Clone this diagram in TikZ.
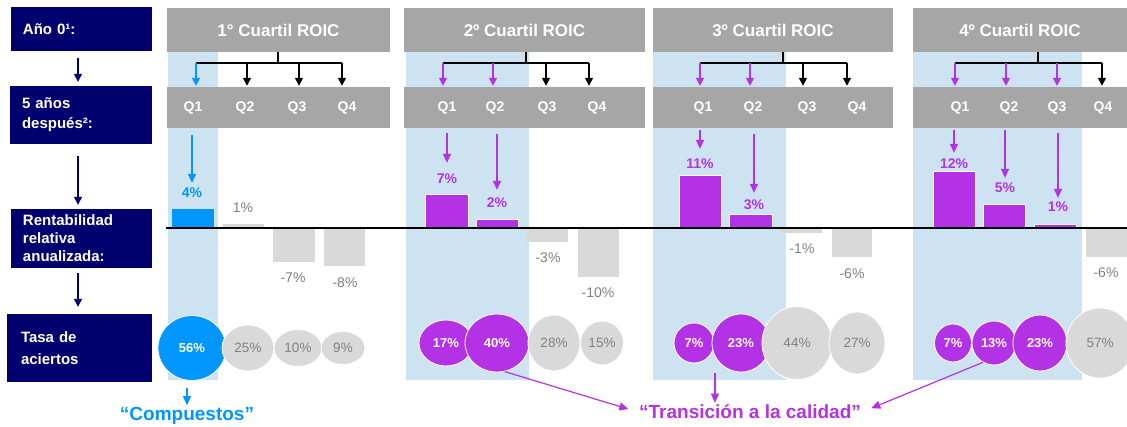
\documentclass[tikz,border=0pt]{standalone}
\usepackage{fontspec}
\setmainfont{Liberation Sans}
\usetikzlibrary{arrows.meta,shapes.geometric}
\definecolor{navy}{RGB}{0,0,110}
\definecolor{hdrgray}{RGB}{166,166,166}
\definecolor{shadeblue}{RGB}{206,227,241}
\definecolor{cblue}{RGB}{0,150,255}
\definecolor{cpurple}{RGB}{180,50,230}
\definecolor{barg}{RGB}{217,217,217}
\definecolor{txtg}{RGB}{128,128,128}
\begin{document}
\begin{tikzpicture}[x=1pt,y=-1pt,
  navybox/.style={fill=navy,text=white,inner ysep=0pt,inner xsep=12pt,align=left,font=\bfseries\fontsize{15}{19}\selectfont},
  navarr/.style={draw=navy,line width=1.4pt,-{Triangle[length=8pt,width=8pt]}},
  hdr/.style={fill=hdrgray,text=white,inner sep=0pt,minimum height=44pt,font=\bfseries\fontsize{17}{20}\selectfont},
  qrow/.style={fill=hdrgray,inner sep=0pt,minimum height=41pt},
  qlbl/.style={text=white,inner sep=1pt,font=\bfseries\fontsize{14}{16}\selectfont},
  tree/.style={draw=black,line width=1.4pt},
  tarr/.style={line width=1.4pt,-{Triangle[length=8pt,width=8pt]},shorten >=1pt},
  parr/.style={draw=cpurple,line width=1.4pt,-{Triangle[length=9pt,width=8pt]}},
  barr/.style={draw=cblue,line width=1.4pt,-{Triangle[length=9pt,width=8pt]}},
  ppct/.style={text=cpurple,inner sep=2pt,font=\bfseries\fontsize{14}{16}\selectfont},
  bpct/.style={text=cblue,inner sep=2pt,font=\bfseries\fontsize{14}{16}\selectfont},
  gpct/.style={text=txtg,inner sep=2pt,font=\fontsize{14}{16}\selectfont},
  bub/.style={ellipse,draw=white,line width=0.8pt,inner sep=0pt},
  cbub/.style={bub,text=white,font=\bfseries\fontsize{13}{15}\selectfont},
  gbub/.style={bub,fill=barg,text=txtg,font=\fontsize{13.5}{15}\selectfont},
  pbar/.style={fill=cpurple,draw=white,line width=0.8pt},
  gbar/.style={fill=barg},
  big/.style={inner sep=1pt,font=\bfseries\fontsize{19}{22}\selectfont}
]
\useasboundingbox (0,0) rectangle (1127,427);
\fill[white] (0,0) rectangle (1127,427);

% shaded columns
\fill[shadeblue] (168,52) rectangle (218,380);
\fill[shadeblue] (406,52) rectangle (529,380);
\fill[shadeblue] (653,52) rectangle (786,380);
\fill[shadeblue] (913,52) rectangle (1082,380);

% left column
\node[navybox,text width=117pt,minimum height=44pt] (L1) at (81.5,29) {Año 0¹:};
\node[navybox,text width=118pt,minimum height=58pt,font=\bfseries\fontsize{15}{20}\selectfont] (L2) at (81,115) {5 años\\después²:};
\node[navybox,text width=117pt,minimum height=59pt,font=\bfseries\fontsize{15}{18}\selectfont] (L3) at (81.5,238.5) {Rentabilidad\\relativa\\anualizada:};
\node[navybox,inner xsep=14pt,text width=117pt,minimum height=68pt,font=\bfseries\fontsize{15}{22}\selectfont] (L4) at (79.5,348) {Tasa de\\aciertos};
\coordinate (ax) at (78,0);
\draw[navarr,shorten <=7pt,shorten >=4pt] (L1.south -| ax) -- (L2.north -| ax);
\draw[navarr,shorten <=12pt,shorten >=4pt] (L2.south -| ax) -- (L3.north -| ax);
\draw[navarr,shorten <=5pt,shorten >=7pt] (L3.south -| ax) -- (L4.north -| ax);

% headers
\node[hdr,minimum width=223pt] (H1) at (278.5,30) {1° Cuartil ROIC};
\node[hdr,minimum width=241pt] (H2) at (524.5,30) {2º Cuartil ROIC};
\node[hdr,minimum width=240pt] (H3) at (773,30) {3º Cuartil ROIC};
\node[hdr,minimum width=214pt] (H4) at (1020,30) {4º Cuartil ROIC};

% quartile rows
\node[qrow,minimum width=223pt] (R1) at (278.5,107.5) {};
\node[qrow,minimum width=241pt] (R2) at (524.5,107.5) {};
\node[qrow,minimum width=240pt] (R3) at (773,107.5) {};
\node[qrow,minimum width=214pt] (R4) at (1020,107.5) {};
\node[qlbl] (q11) at (193,108) {Q1};
\node[qlbl] (q12) at (245,108) {Q2};
\node[qlbl] (q13) at (297,108) {Q3};
\node[qlbl] (q14) at (347,108) {Q4};
\node[qlbl] (q21) at (447,108) {Q1};
\node[qlbl] (q22) at (495,108) {Q2};
\node[qlbl] (q23) at (547,108) {Q3};
\node[qlbl] (q24) at (597,108) {Q4};
\node[qlbl] (q31) at (703,108) {Q1};
\node[qlbl] (q32) at (753,108) {Q2};
\node[qlbl] (q33) at (807,108) {Q3};
\node[qlbl] (q34) at (857,108) {Q4};
\node[qlbl] (q41) at (960,108) {Q1};
\node[qlbl] (q42) at (1009,108) {Q2};
\node[qlbl] (q43) at (1057,108) {Q3};
\node[qlbl] (q44) at (1103,108) {Q4};

% trees
\coordinate (j1) at (278,63);
\coordinate (a11) at (196,63); \coordinate (a12) at (247,63); \coordinate (a13) at (299,63); \coordinate (a14) at (342,63);
\draw[tree] (H1.south -| j1) -- (j1);
\draw[tree] (a11) -- (a14);
\draw[tarr,cblue] (a11) -- (a11 |- R1.north);
\draw[tarr,black] (a12) -- (a12 |- R1.north);
\draw[tarr,black] (a13) -- (a13 |- R1.north);
\draw[tarr,black] (a14) -- (a14 |- R1.north);

\coordinate (j2) at (526,63);
\coordinate (a21) at (443,63); \coordinate (a22) at (493,63); \coordinate (a23) at (546,63); \coordinate (a24) at (589,63);
\draw[tree] (H2.south -| j2) -- (j2);
\draw[tree] (a21) -- (a24);
\draw[tarr,cpurple] (a21) -- (a21 |- R2.north);
\draw[tarr,cpurple] (a22) -- (a22 |- R2.north);
\draw[tarr,black] (a23) -- (a23 |- R2.north);
\draw[tarr,black] (a24) -- (a24 |- R2.north);

\coordinate (j3) at (783,63);
\coordinate (a31) at (700,63); \coordinate (a32) at (750,63); \coordinate (a33) at (803,63); \coordinate (a34) at (847,63);
\draw[tree] (H3.south -| j3) -- (j3);
\draw[tree] (a31) -- (a34);
\draw[tarr,cpurple] (a31) -- (a31 |- R3.north);
\draw[tarr,cpurple] (a32) -- (a32 |- R3.north);
\draw[tarr,black] (a33) -- (a33 |- R3.north);
\draw[tarr,black] (a34) -- (a34 |- R3.north);

\coordinate (j4) at (1038,63);
\coordinate (a41) at (955,63); \coordinate (a42) at (1006,63); \coordinate (a43) at (1057,63); \coordinate (a44) at (1102,63);
\draw[tree] (H4.south -| j4) -- (j4);
\draw[tree] (a41) -- (a44);
\draw[tarr,cpurple] (a41) -- (a41 |- R4.north);
\draw[tarr,cpurple] (a42) -- (a42 |- R4.north);
\draw[tarr,cpurple] (a43) -- (a43 |- R4.north);
\draw[tarr,black] (a44) -- (a44 |- R4.north);

% bars
\fill[cblue] (172,209) rectangle (214,228);
\fill[gbar] (223,224) rectangle (264,228);
\fill[gbar] (273,228) rectangle (315,262);
\fill[gbar] (324,228) rectangle (365,266);

\filldraw[pbar] (425,194) rectangle (468,228);
\filldraw[pbar] (476,219) rectangle (518,228);
\fill[gbar] (526,228) rectangle (568,242);
\fill[gbar] (578,228) rectangle (619,277);

\filldraw[pbar] (679,175) rectangle (721,228);
\filldraw[pbar] (729,214) rectangle (772,228);
\fill[gbar] (780,228) rectangle (822,233);
\fill[gbar] (832,228) rectangle (872,257);

\filldraw[pbar] (933,171) rectangle (975,228);
\filldraw[pbar] (983,204) rectangle (1025,228);
\filldraw[pbar] (1034,224) rectangle (1076,228);
\fill[gbar] (1086,228) rectangle (1127,257);

\draw[line width=1.5pt] (166,228) -- (1127,228);

% bar labels
\node[bpct] (v11) at (192,193) {4\%};
\node[gpct] (v12) at (243,208) {1\%};
\node[gpct] (v13) at (293,278) {-7\%};
\node[gpct] (v14) at (345,283) {-8\%};
\node[ppct] (v21) at (447,179) {7\%};
\node[ppct] (v22) at (497,203) {2\%};
\node[gpct] (v23) at (548,258) {-3\%};
\node[gpct] (v24) at (598,293) {-10\%};
\node[ppct] (v31) at (700,164) {11\%};
\node[ppct] (v32) at (754,205) {3\%};
\node[gpct] (v33) at (802,249) {-1\%};
\node[gpct] (v34) at (852,274) {-6\%};
\node[ppct] (v41) at (954,164) {12\%};
\node[ppct] (v42) at (1005,188) {5\%};
\node[ppct] (v43) at (1058,207) {1\%};
\node[gpct] (v44) at (1106,273) {-6\%};

% arrows to bar labels
\draw[barr,shorten <=7pt,shorten >=3pt] (R1.south -| v11) -- (v11.north);
\draw[parr,shorten <=5pt,shorten >=9pt] (R2.south -| v21) -- (v21.north);
\draw[parr,shorten <=6pt,shorten >=6pt] (R2.south -| v22) -- (v22.north);
\draw[parr,shorten <=2pt,shorten >=8pt] (R3.south -| v31) -- (v31.north);
\draw[parr,shorten <=6pt,shorten >=5pt] (R3.south -| v32) -- (v32.north);
\draw[parr,shorten <=2pt,shorten >=4pt] (R4.south -| v41) -- (v41.north);
\draw[parr,shorten <=2pt,shorten >=3pt] (R4.south -| v42) -- (v42.north);
\draw[parr,shorten <=5pt,shorten >=2pt] (R4.south -| v43) -- (v43.north);

% bubbles
\node[cbub,fill=cblue,minimum width=68pt,minimum height=65pt] (b11) at (192,348) {56\%};
\node[gbub,minimum width=52pt,minimum height=46pt] (b12) at (248,348) {25\%};
\node[gbub,minimum width=48pt,minimum height=37pt] (b13) at (298,348) {10\%};
\node[gbub,minimum width=44pt,minimum height=33pt] (b14) at (343,348) {9\%};

\node[cbub,fill=cpurple,minimum width=54pt,minimum height=46pt] (b21) at (446,343) {17\%};
\node[cbub,fill=cpurple,minimum width=64pt,minimum height=58pt] (b22) at (497,343) {40\%};
\node[gbub,minimum width=52pt,minimum height=56pt] (b23) at (554,343) {28\%};
\node[gbub,minimum width=43pt,minimum height=44pt] (b24) at (602,343) {15\%};

\node[cbub,fill=cpurple,minimum width=40pt,minimum height=40pt] (b31) at (694,343) {7\%};
\node[cbub,fill=cpurple,minimum width=58pt,minimum height=58pt] (b32) at (741,343) {23\%};
\node[gbub,minimum width=70pt,minimum height=73pt] (b33) at (797,343) {44\%};
\node[gbub,minimum width=56pt,minimum height=62pt] (b34) at (857,343) {27\%};

\node[cbub,fill=cpurple,minimum width=37pt,minimum height=38pt] (b41) at (953,343) {7\%};
\node[cbub,fill=cpurple,minimum width=44pt,minimum height=44pt] (b42) at (994,343) {13\%};
\node[cbub,fill=cpurple,minimum width=54pt,minimum height=56pt] (b43) at (1040,343) {23\%};
\node[gbub,minimum width=68pt,minimum height=70pt] (b44) at (1100,343) {57\%};

% bottom labels
\node[big,text=cblue] (comp) at (187,416) {“Compuestos”};
\node[big,text=cpurple] (trans) at (750,412) {“Transición a la calidad”};
\draw[barr,line width=1.2pt,shorten <=7pt,shorten >=1pt] (b11.south -| comp) -- (comp.north -| comp);
\coordinate (t3) at (715,373);
\draw[parr,line width=1.2pt,shorten >=1pt] (t3) -- (t3 |- trans.north);
\draw[parr,line width=1.2pt,shorten >=10pt] (b22.285) -- (trans.west);
\draw[parr,line width=1.2pt,shorten >=10pt] (b42.240) -- (trans.east);
\end{tikzpicture}
\end{document}
